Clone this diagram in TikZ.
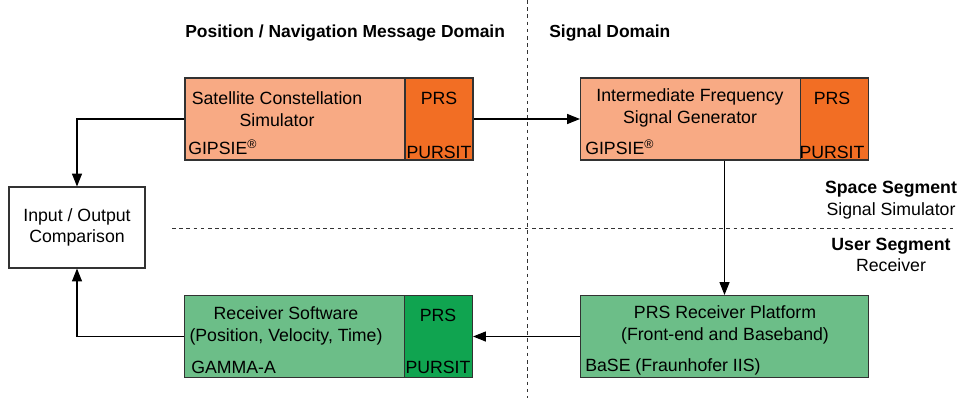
\documentclass[tikz,border=0pt]{standalone}
\usepackage{fontspec}
\setmainfont{Liberation Sans}
\usetikzlibrary{arrows.meta}

\definecolor{simlight}{RGB}{248,170,132}
\definecolor{simdark}{RGB}{242,110,36}
\definecolor{rxlight}{RGB}{108,190,136}
\definecolor{rxdark}{RGB}{16,164,80}
\definecolor{edgegray}{RGB}{50,50,50}

\begin{document}
\begin{tikzpicture}[
        x=0.25mm, y=-0.25mm,
        font=\fontsize{12.6}{15.5}\selectfont,
        flow/.style={-{Triangle[length=3.2mm, width=2.5mm]}, line width=0.8pt},
        block/.style={draw=edgegray, line width=0.8pt,
            minimum width=72mm, minimum height=20.5mm},
        prscol/.style={draw=edgegray, line width=0.8pt,
            minimum width=17mm, minimum height=20.5mm},
        iobox/.style={draw=edgegray, fill=white, line width=0.8pt,
            minimum width=34mm, minimum height=20.25mm, align=center},
        txt/.style={inner sep=0pt, align=center},
        heading/.style={inner sep=0pt, font=\fontsize{12.4}{15.5}\selectfont\bfseries},
        divider/.style={dash pattern=on 0.9mm off 0.9mm, line width=0.6pt, black!80}
    ]
        \useasboundingbox (0,0) rectangle (957,398);

        % Domain and segment dividers.
        \coordinate (vtop) at (527,0);
        \coordinate (vbot) at (527,398);
        \coordinate (hleft) at (172,228);
        \coordinate (hright) at (957,228);
        \draw[divider] (vtop) -- (vbot);
        \draw[divider] (hleft) -- (hright);

        \node[heading, anchor=west] (posdom) at (185,33)
            {Position / Navigation Message Domain};
        \node[heading, anchor=west] (sigdom) at (549,33) {Signal Domain};

        % Space segment: signal simulator.
        \node[block, fill=simlight] (sim) at (329,119) {};
        \node[prscol, fill=simdark, anchor=east] (simprs) at (sim.east) {};
        \node[txt] (simtxt) at (277,109) {Satellite Constellation\\Simulator};
        \node[txt, anchor=west] (simtool) at (188,147) {GIPSIE\textsuperscript{®}};
        \node[txt] (simprstop) at (439,98) {PRS};
        \node[txt] (simprsbot) at (439,152) {PURSIT};

        \node[block, fill=simlight] (sig) at (724.5,119) {};
        \node[prscol, fill=simdark, anchor=east] (sigprs) at (sig.east) {};
        \node[txt] (sigtxt) at (690,108) {Intermediate Frequency\\Signal Generator};
        \node[txt, anchor=west] (sigtool) at (585,147) {GIPSIE\textsuperscript{®}};
        \node[txt] (sigprstop) at (832,98) {PRS};
        \node[txt] (sigprsbot) at (832,152) {PURSIT};

        % User segment: receiver.
        \node[block, fill=rxlight] (rx) at (724.5,336.5) {};
        \node[txt] (rxtxt) at (725,325) {PRS Receiver Platform\\(Front-end and Baseband)};
        \node[txt, anchor=west] (rxtool) at (585,367) {BaSE (Fraunhofer IIS)};

        \node[block, fill=rxlight] (sw) at (328.5,336.5) {};
        \node[prscol, fill=rxdark, anchor=east] (swprs) at (sw.east) {};
        \node[txt] (swtxt) at (286,326) {Receiver Software\\(Position, Velocity, Time)};
        \node[txt, anchor=west] (swtool) at (191,367) {GAMMA-A};
        \node[txt] (swprstop) at (438,315) {PRS};
        \node[txt] (swprsbot) at (438,367) {PURSIT};

        \node[iobox] (io) at (77,227.5) {Input / Output\\Comparison};

        \node[txt] (spaceseg) at (891,200)
            {\textbf{Space Segment}\\Signal Simulator};
        \node[txt] (userseg) at (891,255)
            {\textbf{User Segment}\\Receiver};

        \draw[flow] (sim.west) -| (io.north);
        \draw[flow] (sim.east) -- (sig.west);
        \draw[flow] (sig.south) -- (rx.north);
        \draw[flow] (rx.west) -- (sw.east);
        \draw[flow] (sw.west) -| (io.south);
\end{tikzpicture}
\end{document}
